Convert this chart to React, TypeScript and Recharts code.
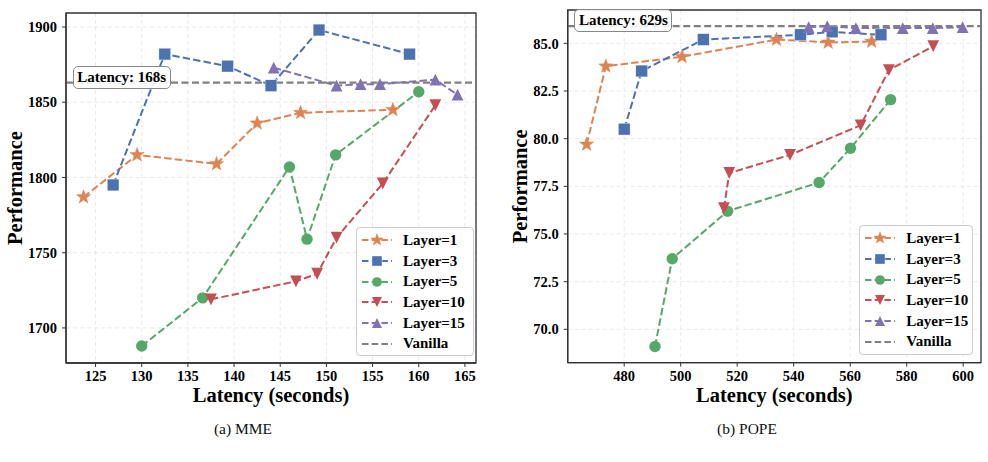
import React from 'react';
import {
  LineChart,
  Line,
  XAxis,
  YAxis,
  CartesianGrid,
  ReferenceLine,
  ReferenceArea,
  Legend,
  Label,
} from 'recharts';

const FONT = '"Liberation Serif", "Times New Roman", serif';

// ---------- data: MME ----------
const mmeL1Lat = [123.7, 129.5, 138.1, 142.5, 147.2, 157.2];
const mmeL1Perf = [1787, 1815, 1809, 1836, 1843, 1845];
const mmeL3Lat = [126.9, 132.5, 139.3, 144.0, 149.2, 159.0];
const mmeL3Perf = [1795, 1882, 1874, 1861, 1898, 1882];
const mmeL5Lat = [130.0, 136.6, 146.0, 147.9, 151.0, 160.0];
const mmeL5Perf = [1688, 1720, 1807, 1759, 1815, 1857];
const mmeL10Lat = [137.5, 146.7, 149.0, 151.1, 156.1, 161.8];
const mmeL10Perf = [1719, 1731, 1736, 1760, 1796, 1848];
const mmeL15Lat = [144.3, 151.1, 153.7, 155.8, 161.8, 164.2];
const mmeL15Perf = [1873, 1861, 1862, 1862, 1865, 1855];
const mmeVanilla = 1863;
const mmeXTicks = [125, 130, 135, 140, 145, 150, 155, 160, 165];
const mmeYTicks = [1700, 1750, 1800, 1850, 1900];

// ---------- data: POPE ----------
const popeL1Lat = [466.7, 473.5, 500.5, 533.9, 552.2, 567.6];
const popeL1Perf = [79.7, 83.8, 84.3, 85.2, 85.05, 85.1];
const popeL3Lat = [480.0, 486.2, 508.0, 542.4, 553.6, 570.9];
const popeL3Perf = [80.5, 83.55, 85.2, 85.45, 85.6, 85.45];
const popeL5Lat = [490.9, 497.0, 516.6, 549.0, 560.1, 574.3];
const popeL5Perf = [69.1, 73.7, 76.2, 77.7, 79.5, 82.05];
const popeL10Lat = [515.3, 517.2, 538.7, 563.7, 573.7, 589.4];
const popeL10Perf = [76.35, 78.2, 79.15, 80.7, 83.6, 84.85];
const popeL15Lat = [545.3, 551.9, 562.0, 578.6, 589.2, 599.8];
const popeL15Perf = [85.85, 85.9, 85.8, 85.8, 85.8, 85.85];
const popeVanilla = 85.9;
const popeXTicks = [480, 500, 520, 540, 560, 580, 600];
const popeYTicks = [70, 72.5, 75, 77.5, 80, 82.5, 85];

const seriesNames = ['Layer=1', 'Layer=3', 'Layer=5', 'Layer=10', 'Layer=15'];
const seriesColors = ['#DD8452', '#4C72B0', '#55A868', '#C44E52', '#8172B3'];
const seriesShapes = ['star', 'square', 'circle', 'tridown', 'triup'];
const vanillaColor = '#808080';

type Pt = { x: number; y: number };
const zip = (xs: number[], ys: number[]): Pt[] => xs.map((x, i) => ({ x, y: ys[i] }));

const mmeSeries = [
  zip(mmeL1Lat, mmeL1Perf),
  zip(mmeL3Lat, mmeL3Perf),
  zip(mmeL5Lat, mmeL5Perf),
  zip(mmeL10Lat, mmeL10Perf),
  zip(mmeL15Lat, mmeL15Perf),
];
const popeSeries = [
  zip(popeL1Lat, popeL1Perf),
  zip(popeL3Lat, popeL3Perf),
  zip(popeL5Lat, popeL5Perf),
  zip(popeL10Lat, popeL10Perf),
  zip(popeL15Lat, popeL15Perf),
];

function starPath(cx: number, cy: number, R: number, r: number) {
  const pts: string[] = [];
  for (let i = 0; i < 10; i++) {
    const rad = i % 2 === 0 ? R : r;
    const a = -Math.PI / 2 + (i * Math.PI) / 5;
    pts.push(`${(cx + rad * Math.cos(a)).toFixed(2)},${(cy + rad * Math.sin(a)).toFixed(2)}`);
  }
  return 'M' + pts.join('L') + 'Z';
}

function Marker({ shape, cx, cy, color, s = 1 }: { shape: string; cx: number; cy: number; color: string; s?: number }) {
  if (cx == null || cy == null || isNaN(cx) || isNaN(cy)) return null;
  if (shape === 'star') return <path d={starPath(cx, cy, 7.4 * s, 3.0 * s)} fill={color} stroke={color} strokeWidth={0.5} />;
  if (shape === 'square') {
    const h = 5.9 * s;
    return <rect x={cx - h} y={cy - h} width={2 * h} height={2 * h} fill={color} stroke="#ffffff" strokeWidth={0.4} />;
  }
  if (shape === 'circle') return <circle cx={cx} cy={cy} r={5.7 * s} fill={color} />;
  if (shape === 'tridown') {
    const h = 5.9 * s;
    return <path d={`M${cx - h},${cy - h}L${cx + h},${cy - h}L${cx},${cy + h}Z`} fill={color} />;
  }
  const h = 5.9 * s;
  return <path d={`M${cx - h},${cy + h}L${cx + h},${cy + h}L${cx},${cy - h}Z`} fill={color} />;
}

function LegendBox() {
  return (
    <div
      style={{
        width: '100%',
        height: '100%',
        boxSizing: 'border-box',
        border: '1px solid #cccccc',
        borderRadius: 4,
        background: 'rgba(255,255,255,0.85)',
        paddingTop: 2,
        fontFamily: FONT,
        fontWeight: 700,
        fontSize: 15,
        color: '#000',
      }}
    >
      {[...seriesNames, 'Vanilla'].map((name, i) => {
        const color = i < 5 ? seriesColors[i] : vanillaColor;
        return (
          <div key={name} style={{ height: 20.7, display: 'flex', alignItems: 'center' }}>
            <svg width={42} height={14} style={{ marginLeft: 4, flex: 'none' }}>
              <line x1={1} y1={7} x2={31} y2={7} stroke={color} strokeWidth={2.2} strokeDasharray="6.5 3.2" />
              {i < 5 && <Marker shape={seriesShapes[i]} cx={16} cy={7} color={color} s={0.85} />}
            </svg>
            <span style={{ marginLeft: 0, lineHeight: 1 }}>{name}</span>
          </div>
        );
      })}
    </div>
  );
}

type PanelProps = {
  left: number;
  width: number;
  margin: { top: number; right: number; bottom: number; left: number };
  xAxisHeight: number;
  xDomain: [number, number];
  yDomain: [number, number];
  xTicks: number[];
  yTicks: number[];
  yFmt: (v: number) => string;
  series: Pt[][];
  vanilla: number;
  vanillaText: string;
  legendPos: { left: number; top: number; width: number; height: number };
  perfX: number;
};

function Panel(p: PanelProps) {
  const plotLeft = p.margin.left + 50;
  const plotRight = p.width - p.margin.right;
  const plotCenter = (plotLeft + plotRight) / 2;
  const plotTop = p.margin.top;
  const plotBottom = 462 - p.margin.bottom - p.xAxisHeight;
  const plotMid = (plotTop + plotBottom) / 2;
  const tickStyle = { fontFamily: FONT, fontWeight: 700, fontSize: 14.5, fill: '#000' };
  return (
    <div style={{ position: 'absolute', left: p.left, top: 0 }}>
      <LineChart width={p.width} height={462} margin={p.margin}>
        <CartesianGrid stroke="#e3e3e3" strokeDasharray="4 3" strokeWidth={0.8} />
        <XAxis
          type="number"
          dataKey="x"
          domain={p.xDomain}
          ticks={p.xTicks}
          allowDataOverflow
          height={p.xAxisHeight}
          tick={tickStyle}
          tickSize={4}
          tickMargin={4}
          axisLine={{ stroke: '#333', strokeWidth: 1.3 }}
          tickLine={{ stroke: '#333' }}
        >
          <Label
            content={() => (
              <text x={plotCenter} y={402} textAnchor="middle" fontFamily={FONT} fontWeight={700} fontSize={20.5} fill="#000">
                Latency (seconds)
              </text>
            )}
          />
        </XAxis>
        <YAxis
          type="number"
          dataKey="y"
          domain={p.yDomain}
          ticks={p.yTicks}
          allowDataOverflow
          width={50}
          tick={tickStyle}
          tickFormatter={p.yFmt}
          tickSize={4}
          tickMargin={5}
          axisLine={{ stroke: '#333', strokeWidth: 1.3 }}
          tickLine={{ stroke: '#333' }}
        >
          <Label
            content={() => (
              <text
                x={p.perfX}
                y={plotMid}
                transform={`rotate(-90, ${p.perfX}, ${plotMid})`}
                textAnchor="middle"
                fontFamily={FONT}
                fontWeight={700}
                fontSize={20.5}
                fill="#000"
              >
                Performance
              </text>
            )}
          />
        </YAxis>
        <ReferenceArea
          x1={p.xDomain[0]}
          x2={p.xDomain[1]}
          y1={p.yDomain[0]}
          y2={p.yDomain[1]}
          fill="none"
          stroke="#333"
          strokeWidth={1.3}
          ifOverflow="visible"
        />
        <ReferenceLine y={p.vanilla} stroke={vanillaColor} strokeWidth={2.3} strokeDasharray="7 3.5" />
        {p.series.map((data, i) => (
          <Line
            key={seriesNames[i]}
            data={data}
            dataKey="y"
            name={seriesNames[i]}
            stroke={seriesColors[i]}
            strokeWidth={2}
            strokeDasharray="7.4 3.2"
            isAnimationActive={false}
            activeDot={false}
            dot={(d: any) => (
              <Marker key={`${seriesNames[i]}-${d.index}`} shape={seriesShapes[i]} cx={d.cx} cy={d.cy} color={seriesColors[i]} />
            )}
          />
        ))}
        <Legend
          layout="vertical"
          align="center"
          verticalAlign="middle"
          wrapperStyle={{ ...p.legendPos, position: 'absolute' }}
          content={() => (
            <div style={{ position: 'relative', width: '100%', height: '100%' }}>
              <LegendBox />
            </div>
          )}
        />
      </LineChart>
      <LatencyBadge x={plotLeft + 6.7} lineY={plotTop + ((p.yDomain[1] - p.vanilla) / (p.yDomain[1] - p.yDomain[0])) * (plotBottom - plotTop)} text={p.vanillaText} />
    </div>
  );
}

function LatencyBadge({ x, lineY, text }: { x: number; lineY: number; text: string }) {
  return (
    <div
      style={{
        position: 'absolute',
        left: x,
        top: lineY - 5.5 - 11.5,
        width: 98,
        height: 23,
        boxSizing: 'border-box',
        border: '1px solid #888',
        borderRadius: 5,
        background: 'rgba(255,255,255,0.88)',
        fontFamily: FONT,
        fontWeight: 700,
        fontSize: 15,
        lineHeight: '21px',
        textAlign: 'center',
        color: '#000',
        whiteSpace: 'nowrap',
      }}
    >
      {text}
    </div>
  );
}

export default function App() {
  return (
    <div style={{ position: 'absolute', left: 0, top: 0, width: 988, height: 462, background: '#fff', overflow: 'hidden' }}>
      <Panel
        left={0}
        width={490}
        margin={{ top: 13, right: 14, bottom: 69, left: 16 }}
        xAxisHeight={30}
        xDomain={[121.8, 166.2]}
        yDomain={[1676.7, 1909.3]}
        xTicks={mmeXTicks}
        yTicks={mmeYTicks}
        yFmt={(v) => String(v)}
        series={mmeSeries}
        vanilla={mmeVanilla}
        vanillaText="Latency: 168s"
        legendPos={{ left: 356, top: 227, width: 118, height: 129 }}
        perfX={22}
      />
      <Panel
        left={500}
        width={488}
        margin={{ top: 10, right: 7, bottom: 69.3, left: 17.7 }}
        xAxisHeight={30}
        xDomain={[460, 606.3]}
        yDomain={[68.25, 86.75]}
        xTicks={popeXTicks}
        yTicks={popeYTicks}
        yFmt={(v) => v.toFixed(1)}
        series={popeSeries}
        vanilla={popeVanilla}
        vanillaText="Latency: 629s"
        legendPos={{ left: 359.3, top: 225, width: 114, height: 130 }}
        perfX={27}
      />
      <div style={{ position: 'absolute', left: 193, top: 421, width: 100, textAlign: 'center', fontFamily: FONT, fontSize: 15.5, color: '#111', lineHeight: '15px' }}>
        (a) MME
      </div>
      <div style={{ position: 'absolute', left: 697, top: 421, width: 100, textAlign: 'center', fontFamily: FONT, fontSize: 15.5, color: '#111', lineHeight: '15px' }}>
        (b) POPE
      </div>
    </div>
  );
}
